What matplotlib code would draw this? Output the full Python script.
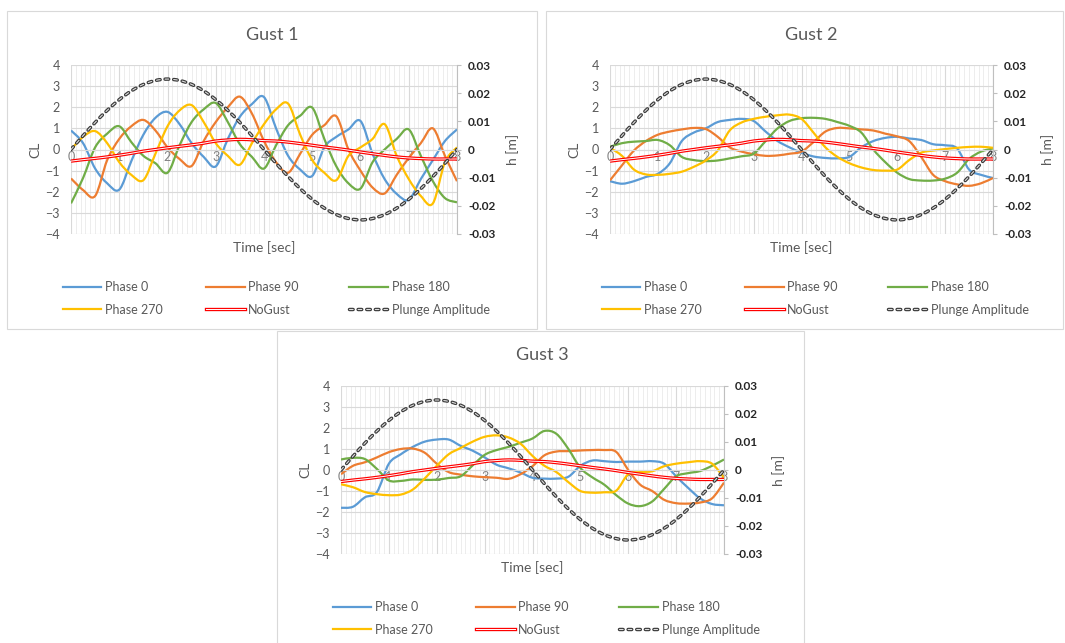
import numpy as np
import matplotlib
matplotlib.use("Agg")
import matplotlib.pyplot as plt
from matplotlib.path import Path
from matplotlib.patches import PathPatch, Rectangle
from matplotlib.lines import Line2D

plt.rcParams['font.family'] = ['Lato', 'DejaVu Sans']
plt.rcParams['lines.scale_dashes'] = False

# ---- data (time step 0.25 s) ----
time_s = [0, 0.25, 0.5, 0.75, 1, 1.25, 1.5, 1.75, 2, 2.25, 2.5, 2.75, 3, 3.25, 3.5, 3.75,
          4, 4.25, 4.5, 4.75, 5, 5.25, 5.5, 5.75, 6, 6.25, 6.5, 6.75, 7, 7.25, 7.5, 7.75, 8]

nogust = [-0.55, -0.48, -0.42, -0.35, -0.27, -0.18, -0.08, 0.0, 0.08, 0.15, 0.22, 0.3, 0.4, 0.45, 0.48, 0.46,
          0.42, 0.4, 0.35, 0.28, 0.2, 0.12, 0.05, -0.03, -0.12, -0.2, -0.28, -0.35, -0.4, -0.43, -0.45, -0.45, -0.45]

plunge = [0, 0.0049, 0.0096, 0.0139, 0.0177, 0.0208, 0.0231, 0.0245, 0.025, 0.0245, 0.0231, 0.0208, 0.0177,
          0.0139, 0.0096, 0.0049, 0, -0.0049, -0.0096, -0.0139, -0.0177, -0.0208, -0.0231, -0.0245, -0.025,
          -0.0245, -0.0231, -0.0208, -0.0177, -0.0139, -0.0096, -0.0049, 0]

g1_phase0 = [0.9, 0.3, -0.9, -1.6, -1.9, -0.55, 0.7, 1.5, 1.78, 1.2, 0.3, -0.35, -0.8, 0.5, 1.55, 2.15,
             2.48, 1.0, -0.3, -0.95, -1.25, 0.1, 0.6, 0.95, 1.35, -0.2, -1.4, -2.1, -2.38, -1.4, -0.5, 0.4, 0.95]
g1_phase90 = [-1.37, -1.92, -2.2, -0.5, 0.5, 1.1, 1.4, 0.9, 0.1, -0.45, -0.78, 0.4, 1.3, 2.0, 2.5, 1.7,
              0.4, -0.6, -1.1, -0.2, 0.7, 1.15, 1.57, 0.0, -1.0, -1.8, -2.08, -1.2, -0.4, 0.3, 1.0, -0.3, -1.5]
g1_phase180 = [-2.55, -1.35, 0.1, 0.75, 1.1, 0.35, -0.3, -0.65, -1.1, 0.2, 1.3, 1.9, 2.2, 1.3, 0.25, -0.35,
               -0.9, 0.2, 1.15, 1.6, 1.98, 0.5, -0.8, -1.6, -1.85, -0.6, 0.0, 0.5, 0.95, -0.3, -1.5, -2.3, -2.5]
g1_phase270 = [0.0, 0.6, 0.87, 0.3, -0.6, -1.2, -1.45, -0.2, 1.1, 1.85, 2.1, 1.3, 0.3, -0.3, -0.72, 0.3,
               1.2, 1.9, 2.17, 0.7, -0.5, -1.1, -1.45, -0.3, 0.1, 0.5, 1.2, -0.3, -1.4, -2.2, -2.55, -0.6, 0.1]

g2_phase0 = [-1.5, -1.62, -1.5, -1.3, -1.15, -0.65, 0.4, 0.8, 1.0, 1.3, 1.4, 1.45, 1.35, 0.85, 0.4, 0.1,
             -0.15, -0.33, -0.4, -0.42, -0.35, 0.1, 0.4, 0.55, 0.6, 0.52, 0.45, 0.25, 0.2, 0.05, -0.95, -1.2, -1.35]
g2_phase90 = [-1.46, -0.75, -0.05, 0.4, 0.7, 0.85, 0.95, 1.02, 0.97, 0.6, 0.1, -0.1, -0.22, -0.3, -0.28, -0.2,
              -0.1, 0.35, 0.85, 1.02, 1.0, 0.95, 0.9, 0.75, 0.62, 0.4, -0.35, -1.2, -1.5, -1.65, -1.72, -1.6, -1.35]
g2_phase180 = [0.13, 0.3, 0.37, 0.4, 0.45, 0.2, -0.35, -0.5, -0.55, -0.52, -0.42, -0.32, -0.2, 0.4, 1.0, 1.35,
               1.48, 1.5, 1.45, 1.3, 1.12, 0.8, 0.0, -0.6, -1.1, -1.4, -1.47, -1.47, -1.38, -1.1, -0.45, -0.1, 0.05]
g2_phase270 = [0.08, -0.3, -0.95, -1.18, -1.2, -1.15, -1.05, -0.82, -0.52, -0.05, 0.9, 1.28, 1.45, 1.55, 1.62, 1.65,
               1.45, 0.8, 0.1, -0.35, -0.65, -0.85, -0.97, -1.0, -0.95, -0.5, -0.15, -0.05, 0.02, 0.08, 0.12, 0.13, 0.08]

g3_phase0 = [-1.8, -1.75, -1.3, -1.05, 0.3, 0.75, 1.1, 1.35, 1.45, 1.45, 1.15, 0.92, 0.6, 0.25, 0.08, -0.12,
             -0.37, -0.41, -0.41, -0.32, 0.2, 0.45, 0.42, 0.38, 0.4, 0.4, 0.42, 0.3, -0.3, -0.85, -1.35, -1.62, -1.68]
g3_phase90 = [-0.2, 0.2, 0.37, 0.6, 0.85, 1.0, 1.02, 0.82, 0.3, -0.1, -0.22, -0.3, -0.34, -0.37, -0.42, -0.2,
              0.18, 0.7, 0.88, 0.9, 0.93, 0.95, 0.95, 0.86, 0.0, -0.7, -1.0, -1.42, -1.58, -1.6, -1.55, -1.35, -0.6]
g3_phase180 = [0.5, 0.58, 0.52, 0.05, -0.5, -0.52, -0.45, -0.47, -0.46, -0.38, -0.3, 0.22, 0.72, 0.95, 1.1, 1.3,
               1.5, 1.86, 1.72, 1.0, 0.1, -0.35, -0.7, -1.2, -1.6, -1.72, -1.5, -0.9, -0.3, -0.15, -0.05, 0.2, 0.5]
g3_phase270 = [-0.68, -0.82, -1.05, -1.15, -1.2, -1.17, -0.93, -0.4, 0.2, 0.75, 1.05, 1.35, 1.58, 1.65, 1.55, 1.25,
               0.67, 0.2, -0.1, -0.58, -1.0, -1.08, -1.06, -0.98, -0.2, -0.1, -0.06, 0.18, 0.3, 0.37, 0.42, 0.3, -0.37]

h_ticks = [-0.03, -0.02, -0.01, 0, 0.01, 0.02, 0.03]
h_ticklabels = ['-0.03', '-0.02', '-0.01', '0', '0.01', '0.02', '0.03']
phase_names = ['Phase 0', 'Phase 90', 'Phase 180', 'Phase 270']
phase_colors = ['#5B9BD5', '#ED7D31', '#70AD47', '#FFC000']

W, H = 1065, 643
GRAY = '#595959'

# panel layouts in pixels: frame (x0, y0, x1, y1), plot area (x0, y0, x1, y1)
panels = [
    dict(title='Gust 1', frame=(7, 11, 537, 329), plot=(71, 65, 457, 234),
         series=[g1_phase0, g1_phase90, g1_phase180, g1_phase270]),
    dict(title='Gust 2', frame=(546, 11, 1063, 329), plot=(610, 65, 993, 234),
         series=[g2_phase0, g2_phase90, g2_phase180, g2_phase270]),
    dict(title='Gust 3', frame=(277, 331, 804, 660), plot=(341, 386, 724, 554),
         series=[g3_phase0, g3_phase90, g3_phase180, g3_phase270]),
]


def smooth_patch(x, y, **kw):
    # Excel style smoothed line: Catmull-Rom segments as cubic Bezier curves
    x = np.asarray(x, float)
    y = np.asarray(y, float)
    n = len(x)
    verts = [(x[0], y[0])]
    codes = [Path.MOVETO]
    for i in range(n - 1):
        i0, i3 = max(i - 1, 0), min(i + 2, n - 1)
        c1 = (x[i] + (x[i + 1] - x[i0]) / 6, y[i] + (y[i + 1] - y[i0]) / 6)
        c2 = (x[i + 1] - (x[i3] - x[i]) / 6, y[i + 1] - (y[i3] - y[i]) / 6)
        verts += [c1, c2, (x[i + 1], y[i + 1])]
        codes += [Path.CURVE4] * 3
    return PathPatch(Path(verts, codes), fill=False, **kw)


plunge_dash = (0, (2.6, 3.6))
PLUNGE_DARK, PLUNGE_CORE = '#3a3a3a', '#dedede'

fig = plt.figure(figsize=(W / 100, H / 100), dpi=100)

for p in panels:
    fx0, fy0, fx1, fy1 = p['frame']
    fig.add_artist(Rectangle((fx0 / W, 1 - fy1 / H), (fx1 - fx0) / W, (fy1 - fy0) / H,
                             transform=fig.transFigure, fill=False, ec='#d9d9d9', lw=0.8))
    x0, y0, x1, y1 = p['plot']
    ax = fig.add_axes([x0 / W, 1 - y1 / H, (x1 - x0) / W, (y1 - y0) / H])
    ax.set_xlim(0, 8)
    ax.set_ylim(-4, 4)
    ax.set_xticks(range(9))
    ax.set_xticks(np.arange(0, 8.05, 0.1), minor=True)
    ax.set_yticks(range(-4, 5))
    ax.set_axisbelow(True)
    ax.grid(which='major', color='#d9d9d9', lw=0.8)
    ax.grid(which='minor', axis='x', color='#eaeaea', lw=0.6)
    ax.tick_params(which='both', length=0)
    ax.tick_params(axis='y', labelsize=9, labelcolor=GRAY, pad=8)
    ax.tick_params(axis='x', labelsize=9, labelcolor='#808080', pad=1)
    for s in ['top', 'right', 'left']:
        ax.spines[s].set_visible(False)
    ax.spines['bottom'].set_position(('data', 0))
    ax.spines['bottom'].set_color('#d9d9d9')

    for vals, col in zip(p['series'], phase_colors):
        ax.add_patch(smooth_patch(time_s, vals, ec=col, lw=1.6, zorder=2, joinstyle='round'))
    ax.add_patch(smooth_patch(time_s, nogust, ec='#FF0000', lw=2.4, zorder=3))
    ax.add_patch(smooth_patch(time_s, nogust, ec='white', lw=0.7, zorder=3))

    ax2 = ax.twinx()
    ax2.set_ylim(-0.03, 0.03)
    ax2.set_yticks(h_ticks)
    ax2.set_yticklabels(h_ticklabels)
    ax2.tick_params(axis='y', length=3, color='#bfbfbf', labelsize=8.5, labelcolor='#262626', pad=5)
    for lbl in ax2.get_yticklabels():
        lbl.set_fontweight('bold')
    for s in ['top', 'left', 'bottom']:
        ax2.spines[s].set_visible(False)
    ax2.spines['right'].set_color('#bfbfbf')
    ax2.add_patch(smooth_patch(time_s, plunge, ec=PLUNGE_DARK, lw=2.5, ls=plunge_dash,
                               capstyle='round', zorder=4))
    ax2.add_patch(smooth_patch(time_s, plunge, ec=PLUNGE_CORE, lw=0.8, ls=plunge_dash,
                               capstyle='round', zorder=4))

    ax.text(-0.092, 0.5, 'CL', rotation=90, transform=ax.transAxes, ha='center', va='center',
            fontsize=10, color=GRAY)
    ax.text(1.143, 0.5, 'h [m]', rotation=90, transform=ax.transAxes, ha='center', va='center',
            fontsize=10, color=GRAY)
    ax.text(0.5, -0.079, 'Time [sec]', transform=ax.transAxes, ha='center', va='center',
            fontsize=10, color=GRAY)
    fig.text((fx0 + 265) / W, 1 - (fy0 + 24.5) / H, p['title'], ha='center', va='center',
             fontsize=13, color=GRAY)

    # legend: three columns of two rows, like the Excel layout
    hnd = [Line2D([], [], color=c, lw=1.6) for c in phase_colors]
    h_nogust = (Line2D([], [], color='#FF0000', lw=2.4), Line2D([], [], color='white', lw=0.7))
    h_plunge = (Line2D([], [], color=PLUNGE_DARK, lw=2.5, ls=plunge_dash, dash_capstyle='round'),
                Line2D([], [], color=PLUNGE_CORE, lw=0.8, ls=plunge_dash, dash_capstyle='round'))
    columns = [([hnd[0], hnd[3]], [phase_names[0], phase_names[3]]),
               ([hnd[1], h_nogust], [phase_names[1], 'NoGust']),
               ([hnd[2], h_plunge], [phase_names[2], 'Plunge Amplitude'])]
    ymid = y1 + 64.3
    for k, (hh, ll) in enumerate(columns):
        lx = x0 - 8.5 + 143.3 * k
        fig.legend(hh, ll, loc='center left', bbox_to_anchor=(lx / W, 1 - ymid / H),
                   frameon=False, fontsize=9, labelcolor=GRAY, handlelength=3.1,
                   handletextpad=0.3, labelspacing=0.85, borderpad=0, borderaxespad=0)

fig.savefig('out.png', dpi=100, facecolor='white')
